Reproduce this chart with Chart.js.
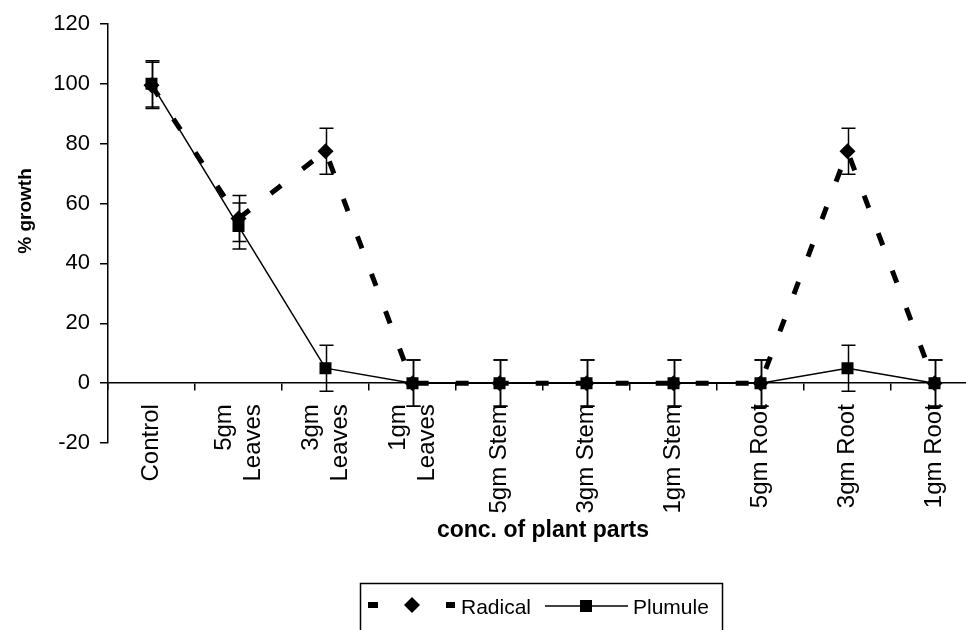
<!DOCTYPE html>
<html>
<head>
<meta charset="utf-8">
<title>% growth</title>
<script src="https://cdn.jsdelivr.net/npm/chart.js@4"></script>
<style>
  html, body { margin: 0; padding: 0; overflow: hidden; background: #fff; }
  #wrap { width: 990px; height: 630px; }
</style>
</head>
<body>
<div id="wrap"><canvas id="growthChart" width="990" height="630"></canvas></div>
<script>
// categories and values
var categories = ['Control', ['5gm', 'Leaves'], ['3gm', 'Leaves'], ['1gm', 'Leaves'],
    '5gm Stem', '3gm Stem', '1gm Stem', '5gm Root', '3gm Root', '1gm Root'];
var radical = [99.5, 55, 77.5, 0, 0, 0, 0, 0, 77.5, 0];
var plumule = [100, 52.5, 5, 0, 0, 0, 0, 0, 5, 0];
var radicalErr = [7.7, 7.7, 7.7, 7.7, 7.7, 7.7, 7.7, 7.7, 7.7, 7.7];
var plumuleErr = [7.7, 7.7, 7.7, 7.7, 7.7, 7.7, 7.7, 7.7, 7.7, 7.7];
var yTicks = [-20, 0, 20, 40, 60, 80, 100, 120];
var yTitle = '% growth';
var xTitle = 'conc. of plant parts';

var FONT = "'Liberation Sans', Arial, sans-serif";

// error bars, drawn through the scales
var errorBars = {
    id: 'errorBars',
    afterDatasetsDraw: function(chart) {
        var ctx = chart.ctx;
        var xs = chart.scales.x, ys = chart.scales.y;
        var errs = [radicalErr, plumuleErr];
        ctx.save();
        ctx.strokeStyle = '#000';
        ctx.lineWidth = 1.5;
        chart.data.datasets.forEach(function(ds, i) {
            ds.data.forEach(function(v, j) {
                var x = xs.getPixelForValue(j) + 1;
                var top = ys.getPixelForValue(v + errs[i][j]);
                var bot = ys.getPixelForValue(v - errs[i][j]);
                ctx.beginPath();
                ctx.moveTo(x, top); ctx.lineTo(x, bot);
                ctx.moveTo(x - 7, top); ctx.lineTo(x + 7, top);
                ctx.moveTo(x - 7, bot); ctx.lineTo(x + 7, bot);
                ctx.stroke();
            });
        });
        ctx.restore();
    }
};

// centre the two-line category labels on their tick like excel does
var centreLabels = {
    id: 'centreLabels',
    beforeDraw: function(chart) {
        var xs = chart.scales.x;
        var items = xs.getLabelItems(chart.chartArea);
        items.forEach(function(it) {
            if (Array.isArray(it.label) && it.label.length > 1 && !it._moved) {
                it.textOffset -= (it.label.length - 1) * it.font.lineHeight / 2;
                it._moved = true;
            }
        });
    }
};

// y title sits a bit above the middle in the reference
var yTitlePlugin = {
    id: 'yTitlePlugin',
    afterDraw: function(chart) {
        var ctx = chart.ctx;
        ctx.save();
        ctx.translate(26, 211);
        ctx.rotate(-Math.PI / 2);
        ctx.font = 'bold 19px ' + FONT;
        ctx.fillStyle = '#000';
        ctx.textAlign = 'center';
        ctx.textBaseline = 'middle';
        ctx.fillText(yTitle, 0, 0);
        ctx.restore();
    }
};

// legend box at the bottom, like the excel one
var boxLegend = {
    id: 'boxLegend',
    afterDraw: function(chart) {
        var ctx = chart.ctx;
        ctx.save();
        ctx.strokeStyle = '#000';
        ctx.lineWidth = 1.5;
        ctx.strokeRect(360.5, 583.5, 362, 80);
        var y = 605;
        ctx.fillStyle = '#000';
        // Radical sample
        ctx.fillRect(368, y - 3, 10, 6);
        ctx.fillRect(446, y - 3, 9, 6);
        ctx.beginPath();
        ctx.moveTo(412, y - 8); ctx.lineTo(420, y); ctx.lineTo(412, y + 8); ctx.lineTo(404, y);
        ctx.closePath();
        ctx.fill();
        ctx.font = '21px ' + FONT;
        ctx.textBaseline = 'middle';
        ctx.textAlign = 'left';
        ctx.fillText(chart.data.datasets[0].label, 461, y + 3);
        // Plumule sample
        ctx.beginPath();
        ctx.moveTo(545, y + 1); ctx.lineTo(628, y + 1);
        ctx.stroke();
        ctx.fillRect(580, y - 5, 12, 12);
        ctx.fillText(chart.data.datasets[1].label, 633, y + 3);
        ctx.restore();
    }
};

var ctx = document.getElementById('growthChart');
var myChart = new Chart(ctx, {
    type: 'line',
    data: {
        labels: categories,
        datasets: [{
            label: 'Radical',
            data: radical,
            borderColor: '#000',
            backgroundColor: '#000',
            borderWidth: 5,
            borderDash: [13, 27],
            pointStyle: 'rectRot',
            pointRadius: 8,
            pointBorderWidth: 0,
            pointBackgroundColor: '#000',
            tension: 0
        }, {
            label: 'Plumule',
            data: plumule,
            borderColor: '#000',
            backgroundColor: '#000',
            borderWidth: 1.5,
            pointStyle: 'rect',
            pointRadius: 8.5,
            pointBorderWidth: 0,
            pointBackgroundColor: '#000',
            tension: 0
        }]
    },
    options: {
        responsive: false,
        animation: false,
        events: [],
        layout: { padding: { left: 0, top: 24, right: 12, bottom: 187 } },
        plugins: {
            legend: { display: false },
            tooltip: { enabled: false }
        },
        scales: {
            x: {
                type: 'category',
                position: { y: 0 },
                offset: true,
                grid: { offset: true, drawOnChartArea: false, drawTicks: true, tickLength: 7, color: '#000', lineWidth: 1.5 },
                border: { display: true, color: '#000', width: 1.5 },
                ticks: {
                    minRotation: 90, maxRotation: 90, autoSkip: false,
                    padding: 14, color: '#000',
                    font: { family: FONT, size: 24 }
                },
                title: {
                    display: true, text: xTitle, color: '#000',
                    font: { family: FONT, size: 23, weight: 'bold' },
                    padding: { top: -11, bottom: 0 }
                }
            },
            y: {
                min: -20, max: 120,
                afterFit: function(scale) { scale.width = 108; },
                afterBuildTicks: function(scale) {
                    scale.ticks = yTicks.map(function(v) { return { value: v }; });
                },
                grid: { drawOnChartArea: false, drawTicks: true, tickLength: 8, color: '#000', lineWidth: 1.5 },
                border: { display: true, color: '#000', width: 1.5 },
                ticks: { padding: 10, color: '#000', font: { family: FONT, size: 22 } }
            }
        }
    },
    plugins: [errorBars, centreLabels, yTitlePlugin, boxLegend]
});
</script>
</body>
</html>
